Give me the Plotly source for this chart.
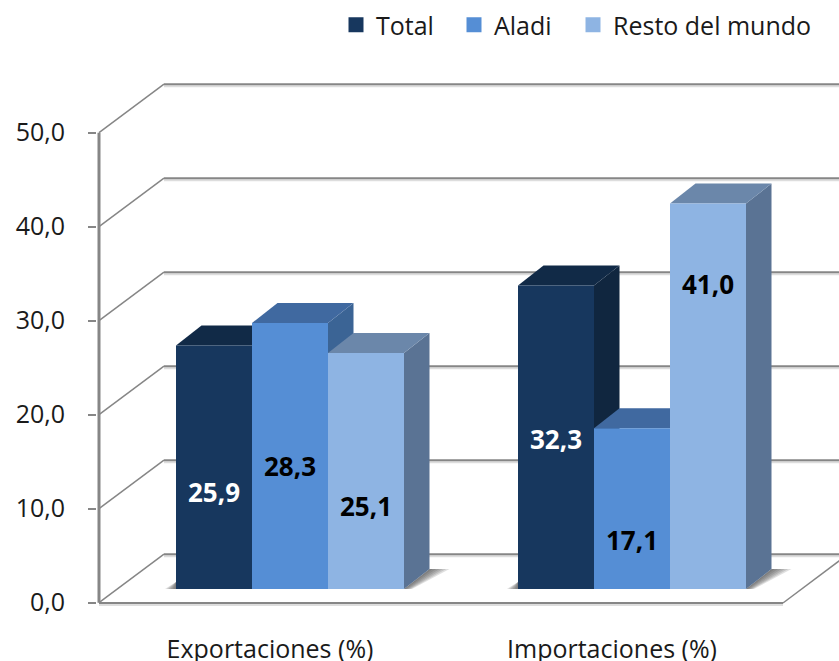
import plotly.graph_objects as go

CATEGORIES = ["Exportaciones (%)", "Importaciones (%)"]
SERIES = ["Total", "Aladi", "Resto del mundo"]
TOTAL = [25.9, 32.3]
ALADI = [28.3, 17.1]
RESTO = [25.1, 41.0]
Y_TICKS = [0, 10, 20, 30, 40, 50]
FRONT = ["#17375E", "#558ED5", "#8EB4E3"]
TOPS = ["#112A47", "#4069A0", "#6B87AA"]
SIDES = ["#10263F", "#3B6495", "#5A7394"]
LABEL_COLORS = [["white", "black", "black"], ["white", "black", "black"]]
LABEL_Y = [[11.4, 14.15, 9.95], [17.05, 6.3, 33.55]]
LEGEND_PX = [336, 454, 573]

W, H = 839, 661
PX_X = 342.0     # pixels per category
PX_Y = 9.4       # pixels per value unit
ZERO_PY = 602.7
X0_PX = 270.0
LEFT = 97
BOTTOM_PY = 609
AXIS_X = -0.5
FRONT_END = 1.5
xr = [(LEFT - X0_PX) / PX_X, (W - X0_PX) / PX_X]
yr = [(ZERO_PY - BOTTOM_PY) / PX_Y, ZERO_PY / PX_Y]
WALL_DX, WALL_DY = 65 / PX_X, 48.5 / PX_Y
BAR_W = 76 / PX_X
BAR_SHIFT = 20 / PX_X
BAR_BASE = 13.7 / PX_Y
DEPTH_X, DEPTH_Y = 25.5 / PX_X, 20 / PX_Y
GRID = "#868686"
FONT = "Open Sans"

values = [TOTAL, ALADI, RESTO]
shapes = []


def poly(pts, color, opacity=1.0):
    d = "M " + " L ".join(f"{x},{y}" for x, y in pts) + " Z"
    return dict(type="path", path=d, xref="x", yref="y", layer="below",
                fillcolor=color, opacity=opacity, line=dict(width=0))


def line(x0, y0, x1, y1, color=GRID, width=1.5):
    return dict(type="line", xref="x", yref="y", layer="below", x0=x0, y0=y0,
                x1=x1, y1=y1, line=dict(color=color, width=width))


# walls and grid
for t in Y_TICKS:
    shapes.append(line(AXIS_X + WALL_DX, t + WALL_DY - 0.22, xr[1], t + WALL_DY - 0.22, "#DDDDDD", 2))
    shapes.append(line(AXIS_X + WALL_DX, t + WALL_DY, xr[1], t + WALL_DY, GRID, 2))
    shapes.append(line(AXIS_X, t, AXIS_X + WALL_DX, t + WALL_DY, GRID, 1.5))
# floor front and right edges, value axis line
shapes.append(line(AXIS_X, -0.25, FRONT_END, -0.25, "#DDDDDD", 2))
shapes.append(line(AXIS_X, -0.03, FRONT_END, -0.03, GRID, 2))
shapes.append(line(FRONT_END, -0.03, FRONT_END + WALL_DX, WALL_DY, GRID, 1.5))
shapes.append(line(AXIS_X, 0, AXIS_X, 50, GRID, 3))

# shadows and 3D faces, derived from the data
for g in range(len(CATEGORIES)):
    left = g + BAR_SHIFT - 1.5 * BAR_W
    right = left + 3 * BAR_W
    for k in range(1, 7):
        f = k / 6
        shapes.append(poly([(right, BAR_BASE), (right + DEPTH_X, BAR_BASE + DEPTH_Y),
                            (right + DEPTH_X + f * 20 / PX_X, BAR_BASE + DEPTH_Y),
                            (right + f * 8 / PX_X, BAR_BASE)], "#404040", 0.16))
        shapes.append(poly([(left, BAR_BASE), (left - f * 11 / PX_X, BAR_BASE),
                            (left, BAR_BASE + 7 / PX_Y)], "#404040", 0.16))
    for s, vals in enumerate(values):
        x0 = g + BAR_SHIFT + (s - 1.5) * BAR_W
        x1 = x0 + BAR_W
        top = BAR_BASE + vals[g]
        shapes.append(poly([(x1, BAR_BASE), (x1 + DEPTH_X, BAR_BASE + DEPTH_Y),
                            (x1 + DEPTH_X, top + DEPTH_Y), (x1, top)], SIDES[s]))
        shapes.append(poly([(x0, top), (x0 + DEPTH_X, top + DEPTH_Y),
                            (x1 + DEPTH_X, top + DEPTH_Y), (x1, top)], TOPS[s]))

fig = go.Figure()
for s, (name, vals) in enumerate(zip(SERIES, values)):
    legend_id = "legend" if s == 0 else f"legend{s + 1}"
    fig.add_trace(go.Bar(
        name=name, showlegend=False,
        x=[g + BAR_SHIFT + (s - 1) * BAR_W for g in range(len(CATEGORIES))],
        y=vals, base=BAR_BASE, width=BAR_W,
        marker=dict(color=FRONT[s], line=dict(width=0)),
    ))
    fig.add_trace(go.Scatter(
        x=[g + BAR_SHIFT + (s - 1) * BAR_W for g in range(len(CATEGORIES))],
        y=[LABEL_Y[g][s] for g in range(len(CATEGORIES))],
        mode="text", showlegend=False, hoverinfo="skip",
        text=[f"{v:.1f}".replace(".", ",") for v in vals],
        textposition="middle center",
        textfont=dict(family=FONT, size=26, weight="bold",
                      color=[LABEL_COLORS[g][s] for g in range(len(CATEGORIES))]),
    ))
    fig.add_trace(go.Scatter(
        name=name, x=[None], y=[None], mode="markers", legend=legend_id,
        marker=dict(symbol="square", size=15, color=FRONT[s]),
    ))

legends = {}
for s, px in enumerate(LEGEND_PX):
    key = "legend" if s == 0 else f"legend{s + 1}"
    legends[key] = dict(x=(px - LEFT) / (W - LEFT), xanchor="left",
                        y=1 - 2 / BOTTOM_PY, yanchor="top",
                        orientation="h", font=dict(family=FONT, size=25),
                        bgcolor="rgba(0,0,0,0)", itemclick=False, itemdoubleclick=False)

fig.update_layout(
    width=W, height=H, autosize=False,
    margin=dict(l=LEFT, r=0, t=0, b=H - BOTTOM_PY, pad=0, autoexpand=False),
    paper_bgcolor="white", plot_bgcolor="white",
    barmode="overlay", separators=",.",
    shapes=shapes,
    font=dict(family=FONT, color="#1a1a1a"),
    xaxis=dict(range=xr, tickvals=list(range(len(CATEGORIES))), ticktext=CATEGORIES,
               showgrid=False, zeroline=False, showline=False, ticks="", automargin=False,
               ticklabelstandoff=23, tickfont=dict(family=FONT, size=25, color="#1a1a1a")),
    yaxis=dict(range=yr, tickvals=Y_TICKS, tickformat=".1f", showgrid=False, automargin=False,
               zeroline=False, showline=False, ticks="outside", ticklen=8,
               tickwidth=2, tickcolor=GRID, ticklabelstandoff=18,
               tickfont=dict(family=FONT, size=25, color="#1a1a1a")),
    **legends,
)
fig.write_html(
    "out.html",
    config={"displayModeBar": False},
    post_script="document.body.style.margin='0';document.documentElement.style.overflow='hidden';",
)
